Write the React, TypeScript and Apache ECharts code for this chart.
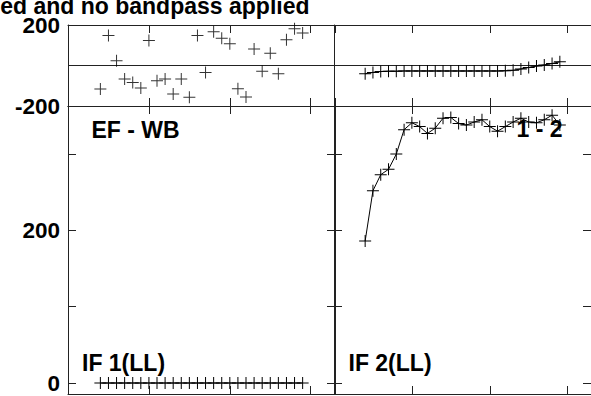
import React, { useEffect, useRef } from 'react';
import * as echarts from 'echarts';

// Time axis (shared by all panels)
const xHours = [0.4, 0.5, 0.6, 0.7, 0.8, 0.9, 1.0, 1.1, 1.2, 1.3, 1.4, 1.5, 1.6, 1.7, 1.8, 1.9, 2.0, 2.1, 2.2, 2.3, 2.4, 2.5, 2.6, 2.7, 2.8, 2.9];

// EF - WB : phase (top-left) and IF 1(LL) amplitude (bottom-left)
const phaseEFWB = [-116, 148, 23, -67, -84, -111, 123, -75, -67, -141, -67, -157, 148, -34, 167, 135, 107, -115, -156, 81, -29, 61, -41, 127, 181, 160];
const ampIF1 = [0, 0, 0, 0, 0, 0, 0, 0, 0, 0, 0, 0, 0, 0, 0, 0, 0, 0, 0, 0, 0, 0, 0, 0, 0, 0];

// 1 - 2 : phase (top-right) and IF 2(LL) amplitude (bottom-right)
const phase12 = [-41, -34, -30, -28, -28, -27, -27, -27, -27, -27, -27, -27, -27, -27, -27, -27, -27, -27, -26, -24, -17, -10, -3, 3, 10, 18];
const amp12 = [186, 252, 273, 280, 300, 332, 341, 336, 327, 334, 347, 348, 340, 338, 342, 345, 336, 330, 336, 342, 347, 342, 341, 345, 351, 338];

// Axis tick / label values
const phaseLabels = [-200, 200];
const ampTicks = [0, 100, 200, 300];
const ampLabels = [0, 200];

const titleText = 'ed and no bandpass applied';
const panelLabels = ['EF - WB', '1 - 2', 'IF 1(LL)', 'IF 2(LL)'];

const FONT = '"Liberation Sans", Arial, Helvetica, sans-serif';
const LINE = '#222';
const CROSS = 'path://M0,5.5H12V6.5H0Z M5.5,0H6.5V12H5.5Z';

export default function App() {
  const ref = useRef<HTMLDivElement>(null);
  useEffect(() => {
    const chart = echarts.init(ref.current!, null, { renderer: 'svg' });
    const pts = (ys: number[]) => xHours.map((x, i) => [x, ys[i]]);

    const grids = [
      { left: 68, top: 25, width: 267, height: 81 },
      { left: 334, top: 25, width: 267, height: 81 },
      { left: 68, top: 106, width: 267, height: 288 },
      { left: 334, top: 106, width: 267, height: 288 },
    ];

    const xAxis: any[] = [];
    const yAxis: any[] = [];
    const positions: Array<'bottom' | 'top'> = ['bottom', 'top'];
    positions.forEach((pos) => {
      for (let g = 0; g < 4; g++) {
        xAxis.push({
          type: 'value', gridIndex: g, position: pos, min: 0, max: 3.3, interval: 1,
          axisLine: { show: true, onZero: false, lineStyle: { color: LINE, width: 1 } },
          axisTick: { show: true, inside: true, length: 8, lineStyle: { color: LINE, width: 1 } },
          axisLabel: { show: false }, splitLine: { show: false },
        });
      }
    });
    const labelStyle = { fontSize: 22.5, fontWeight: 'bold', color: '#000', fontFamily: FONT, margin: 8 };
    (['left', 'right'] as const).forEach((pos) => {
      for (let g = 0; g < 4; g++) {
        const isTop = g < 2;
        const showLine = !(g === 0 && pos === 'right');
        const base: any = {
          type: 'value', gridIndex: g, position: pos,
          axisLine: { show: showLine, onZero: false, lineStyle: { color: LINE, width: 1 } },
          splitLine: { show: false },
        };
        if (isTop) {
          Object.assign(base, {
            min: -200, max: 200, interval: 200,
            axisTick: { show: true, inside: true, length: 8, lineStyle: { color: LINE } },
            axisLabel: pos === 'left' && g === 0
              ? { ...labelStyle, customValues: phaseLabels, showMinLabel: true, showMaxLabel: true }
              : { show: false },
            splitLine: { show: pos === 'left', lineStyle: { color: LINE, width: 1 } },
          });
        } else {
          Object.assign(base, {
            min: -14.4, max: 363,
            axisTick: { show: true, inside: true, length: 8, customValues: ampTicks, lineStyle: { color: LINE } },
            axisLabel: pos === 'left' && g === 2
              ? { ...labelStyle, customValues: ampLabels, showMinLabel: true, showMaxLabel: true }
              : { show: false },
          });
        }
        yAxis.push(base);
      }
    });

    const common = {
      symbol: CROSS, symbolSize: 12, silent: true,
      itemStyle: { color: '#000' },
      emphasis: { disabled: true },
    };
    const lineSeries = (data: number[], idx: number) => ({
      ...common, type: 'line', xAxisIndex: idx, yAxisIndex: idx, data: pts(data),
      showSymbol: true, showAllSymbol: true,
      lineStyle: { color: '#000', width: 1 },
    });

    const textEl = (text: string, x: number, y: number, align: string) => ({
      type: 'text', x, y, z: 10,
      style: { text, fill: '#000', fontSize: 23, fontWeight: 'bold', fontFamily: FONT, align, verticalAlign: 'middle' },
    });

    chart.setOption({
      animation: false,
      backgroundColor: '#fff',
      grid: grids,
      xAxis, yAxis,
      series: [
        { ...common, type: 'scatter', xAxisIndex: 0, yAxisIndex: 0, data: pts(phaseEFWB) },
        lineSeries(phase12, 1),
        lineSeries(ampIF1, 2),
        lineSeries(amp12, 3),
      ],
      graphic: [
        textEl(titleText, 309.5, 6.1, 'right'),
        textEl(panelLabels[0], 91.5, 130, 'left'),
        textEl(panelLabels[1], 562.5, 129, 'right'),
        textEl(panelLabels[2], 82, 363, 'left'),
        textEl(panelLabels[3], 348.5, 363, 'left'),
      ],
    });
    return () => chart.dispose();
  }, []);
  return <div ref={ref} style={{ position: 'fixed', left: 0, top: 0, width: 591, height: 396 }} />;
}
